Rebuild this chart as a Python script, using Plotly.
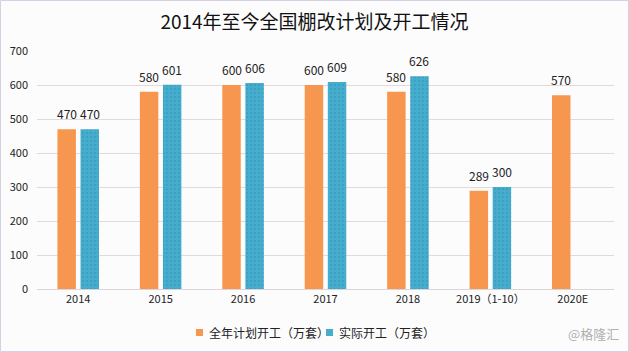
import plotly.graph_objects as go

categories = ["2014", "2015", "2016", "2017", "2018", "2019（1-10）", "2020E"]
plan = [470, 580, 600, 600, 580, 289, 570]
actual = [470, 601, 606, 609, 626, 300, None]
tick_vals = [0, 100, 200, 300, 400, 500, 600, 700]
series_names = ["全年计划开工（万套）", "实际开工（万套）"]
colors = ["#F7964F", "#45AECB"]

font = "Noto Sans CJK SC"
W, H = 629, 352
ml, mr, mt, mb = 37, 15, 51, 63
pw, ph = W - ml - mr, H - mt - mb

fig = go.Figure()
fig.add_trace(go.Bar(
    x=categories, y=plan, name=series_names[0],
    marker=dict(color=colors[0], line=dict(width=0)),
    showlegend=False,
))
fig.add_trace(go.Bar(
    x=categories, y=actual, name=series_names[1],
    marker=dict(color=colors[1], line=dict(width=0),
                pattern=dict(shape=".", fgcolor="#3A8FC0", size=4, solidity=0.3)),
    showlegend=False,
))

annotations = []
slot_px = pw / len(categories) * (1 - 0.44) / 2
for i, c in enumerate(categories):
    for s, vals in enumerate([plan, actual]):
        v = vals[i]
        if v is None:
            continue
        annotations.append(dict(
            x=i, y=v, xref="x", yref="y", text=str(v), showarrow=False,
            xanchor="center", yanchor="bottom", yshift=5,
            xshift=(-1 if s == 0 else 1) * slot_px / 2,
            font=dict(size=12, color="#222222", family=font)))

def px2x(px):
    return (px - ml) / pw

def py2y(py):
    return (H - mb - py) / ph

shapes = [dict(type="rect", xref="paper", yref="paper", x0=px2x(0.5), x1=px2x(W - 0.5),
               y0=py2y(H - 0.5), y1=py2y(0.5), line=dict(color="#d6d0e4", width=1))]
legend_items = [(196, 207), (326, 337)]
for (sx, tx), name, col in zip(legend_items, series_names, colors):
    shapes.append(dict(type="rect", xref="paper", yref="paper",
                       x0=px2x(sx), x1=px2x(sx + 7), y0=py2y(336), y1=py2y(329),
                       fillcolor=col, line=dict(width=0)))
    annotations.append(dict(text=name, xref="paper", yref="paper", x=px2x(tx),
                            y=py2y(332.5), xanchor="left", yanchor="middle",
                            showarrow=False,
                            font=dict(size=12, color="#222222", family=font)))

annotations.append(dict(text="@格隆汇", xref="paper", yref="paper", x=px2x(621),
                        y=py2y(333), xanchor="right", yanchor="middle", showarrow=False,
                        font=dict(size=13, color="#b0b0b0", family=font)))

fig.update_layout(
    width=W, height=H,
    margin=dict(l=ml, r=mr, t=mt, b=mb, autoexpand=False),
    paper_bgcolor="#fcfcfd",
    plot_bgcolor="#fcfcfd",
    barmode="group", bargap=0.44, bargroupgap=0.2,
    title=dict(text="2014年至今全国棚改计划及开工情况", x=0.5, xanchor="center",
               y=1 - 22 / H, yanchor="middle",
               font=dict(family=font, size=19, color="#111111")),
    font=dict(family=font, size=11, color="#222222"),
    showlegend=False,
    xaxis=dict(type="category", categoryorder="array", categoryarray=categories,
               range=[-0.5, len(categories) - 0.5],
               showgrid=False, showline=True, linecolor="#dcd4d8", linewidth=1,
               ticks="", tickfont=dict(size=11, color="#222222")),
    yaxis=dict(range=[0, 700], tickvals=tick_vals, showgrid=True,
               gridcolor="#e3d8dc", gridwidth=1, zeroline=False,
               ticks="", tickfont=dict(size=11, color="#222222"),
               ticklabelstandoff=8),
    shapes=shapes,
    annotations=annotations,
)

fig.write_html("out.html")
